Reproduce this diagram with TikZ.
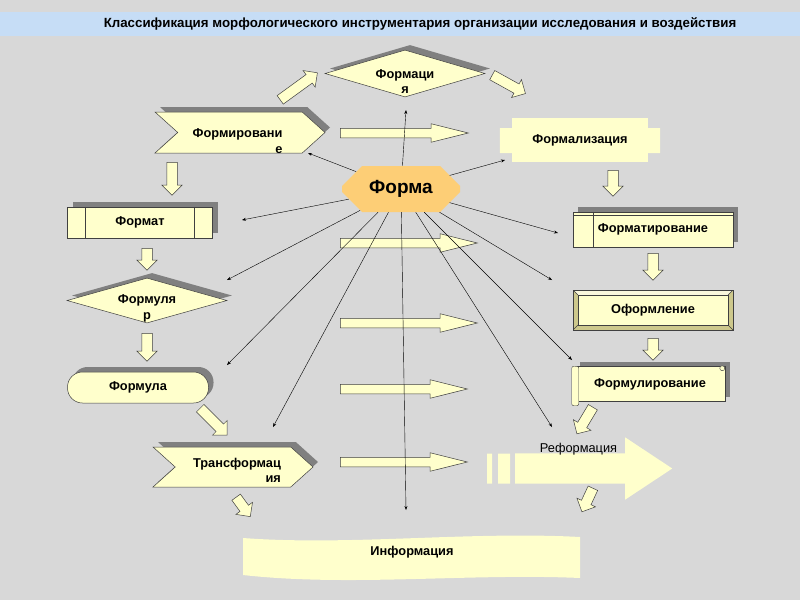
\documentclass[tikz,border=0pt]{standalone}
\usepackage{fontspec}
\setmainfont{Liberation Sans}
\usetikzlibrary{shapes.geometric,shapes.symbols,shapes.misc,shapes.arrows,shadows,calc,arrows.meta}

\definecolor{paper}{RGB}{216,216,216}
\definecolor{band}{RGB}{198,221,246}
\definecolor{pale}{RGB}{255,255,204}
\definecolor{orng}{RGB}{253,206,118}
\definecolor{shadegray}{RGB}{128,128,128}
\definecolor{bevdark}{RGB}{205,200,140}
\definecolor{bevlite}{RGB}{250,248,220}

\begin{document}
\begin{tikzpicture}[x=1pt,y=-1pt,
    lbl/.style={font=\bfseries\fontsize{12.8}{15.5}\selectfont},
    box/.style={draw=black!75, fill=pale, line width=0.5pt, inner sep=0pt, lbl},
    shadowed/.style={drop shadow={shadow xshift=5pt,shadow yshift=5pt,fill=shadegray,opacity=1}},
    chevron/.style={signal, signal to=east, signal from=west, signal pointer angle=84},
    bevel/.style={fill=bevdark, path picture={
        \fill[bevlite] (path picture bounding box.north west) -- (path picture bounding box.north east) -- ++(-5,5) -- ++(-150,0) -- cycle;
        \draw[black!75, fill=pale] ($(path picture bounding box.north west)+(5,5)$) rectangle ($(path picture bounding box.south east)+(-5,-5)$);
        \draw[black!75] (path picture bounding box.north west) -- ++(5,5) (path picture bounding box.north east) -- ++(-5,5)
            (path picture bounding box.south west) -- ++(5,-5) (path picture bounding box.south east) -- ++(-5,-5);}},
    fat/.style={single arrow, anchor=west, draw=black!75, fill=pale, line width=0.5pt, inner xsep=0pt, inner ysep=5pt,
        single arrow head extend=5pt, minimum width=20pt, single arrow tip angle=90},
    long/.style={fat, inner ysep=4.5pt, single arrow head extend=4.5pt, minimum width=18pt, single arrow tip angle=28},
    link/.style={-{Stealth[length=4pt,width=3pt]}, line width=0.4pt}]

\useasboundingbox (0,0) rectangle (800,600);
\fill[paper] (0,0) rectangle (800,600);
\fill[band] (0,12) rectangle (800,36);
\node[font=\bfseries\fontsize{13.3}{16}\selectfont] (title) at (420,24) {Классификация морфологического инструментария организации исследования и воздействия};

% left column
\node[box, shadowed, diamond, minimum width=160, minimum height=47] (formaciya) at (405,73.5) {};
\node[lbl, align=center] (t-formaciya) at (405,81.5) {Формаци\\я};
\node[box, shadowed, chevron, minimum width=170, minimum height=41] (formirovanie) at (240,132.5) {};
\node[lbl, align=right] (t-formirovanie) at (237.5,141) {Формировани\\е};
\node[box, shadowed, minimum width=145, minimum height=31] (format) at (140,222.5) {Формат};
\draw[black!75] ($(format.north west)+(18,0)$) -- ($(format.south west)+(18,0)$)
    ($(format.north east)+(-19,0)$) -- ($(format.south east)+(-19,0)$);
\node[box, shadowed, diamond, minimum width=160, minimum height=45] (formulyar) at (147,300.5) {};
\node[lbl, align=center] (t-formulyar) at (147,308.5) {Формуля\\р};
\node[box, shadowed, rounded corners=15, minimum width=141, minimum height=31] (formula) at (138,387.5) {Формула};
\node[box, shadowed, chevron, minimum width=160, minimum height=40] (transform) at (233,467) {};
\node[lbl, align=right] (t-transform) at (237,470.5) {Трансформац\\ия};

% centre
\node[chamfered rectangle, chamfered rectangle xsep=10pt, chamfered rectangle ysep=10pt, fill=orng,
    minimum width=118, minimum height=46, font=\bfseries\fontsize{19}{22}\selectfont] (forma) at (401,189) {Форма};

% right column
\node[fill=pale, inner sep=0pt, minimum width=136, minimum height=44, lbl] (formaliz) at (580,140) {Формализация};
\fill[pale] ($(formaliz.west)+(-12,-12)$) rectangle ($(formaliz.west)+(0,13)$)
    ($(formaliz.east)+(0,-12)$) rectangle ($(formaliz.east)+(12,13)$);
\node[box, shadowed, minimum width=160, minimum height=35] (formatir) at (653,229.5) {Форматирование};
\draw[black!75] ($(formatir.north west)+(20,0)$) -- ($(formatir.south west)+(20,0)$)
    ($(formatir.north west)+(0,3)$) -- ($(formatir.north east)+(0,3)$);
\node[box, bevel, minimum width=160, minimum height=40] (oform) at (653,310) {Оформление};
\node[box, shadowed, minimum width=150, minimum height=35] (formulir) at (650,384) {Формулирование};
\draw[black!75, fill=pale, rounded corners=2] ($(formulir.north west)+(-3,0)$) rectangle ($(formulir.south west)+(4,4)$);
\draw[black!75, fill=pale] ($(formulir.north east)+(-3,2)$) circle (2.5);

% bottom
\node[single arrow, anchor=west, fill=pale, inner xsep=0pt, inner ysep=15pt, single arrow head extend=16pt,
    minimum width=62, minimum height=157, single arrow tip angle=67] (reform) at (515,468.5) {};
\fill[pale] ($(reform.west)+(-28,-15)$) rectangle ($(reform.west)+(-23,15)$)
    ($(reform.west)+(-17,-15)$) rectangle ($(reform.west)+(-5,15)$);
\node[font=\fontsize{12.8}{15}\selectfont] (t-reform) at (578.5,449) {Реформация};
\fill[pale] (243,538) .. controls (350,546) and (470,531) .. (580,537) -- (580,578)
    .. controls (470,573) and (350,587) .. (243,575) -- cycle;
\node[lbl] (info) at (412,552) {Информация};

% block arrows
\node[fat, rotate=36, minimum height=46] (a1) at (280,100) {};
\node[fat, rotate=-29, minimum height=38] (a2) at (492,75) {};
\node[fat, rotate=-90, minimum height=33] (a3) at (172,162) {};
\node[fat, rotate=-90, minimum height=22] (a4) at (147,248) {};
\node[fat, rotate=-90, minimum height=28] (a5) at (147,333) {};
\node[fat, rotate=-45, minimum height=38] (a6) at (200,408) {};
\node[fat, rotate=-54, minimum height=24] (a7) at (236,497) {};
\node[fat, rotate=-90, minimum height=26] (a8) at (613,170) {};
\node[fat, rotate=-90, minimum height=27] (a9) at (653,253) {};
\node[fat, rotate=-90, minimum height=22] (a10) at (653,338) {};
\node[fat, rotate=-121, minimum height=31] (a11) at (593,407) {};
\node[fat, rotate=-115, minimum height=26] (a12) at (593,488) {};
\node[long, minimum height=128] (m1) at (340,133) {};
\node[long, minimum height=137] (m2) at (340,243) {};
\node[long, minimum height=137] (m3) at (340,323) {};
\node[long, minimum height=127] (m4) at (340,389) {};
\node[long, minimum height=127] (m5) at (340,462) {};

% thin links from the centre
\coordinate (e1) at (406,110);
\coordinate (e2) at (308,153);
\coordinate (e3) at (242,220);
\coordinate (e4) at (227,280);
\coordinate (e5) at (227,365);
\coordinate (e6) at (273,427);
\coordinate (e7) at (406,510);
\coordinate (e8) at (552,427);
\coordinate (e9) at (572,360);
\coordinate (e10) at (552,280);
\coordinate (e11) at (558,233);
\coordinate (e12) at (505,160);
\draw[link] (forma) -- (e1);
\draw[link] (forma) -- (e2);
\draw[link] (forma) -- (e3);
\draw[link] (forma) -- (e4);
\draw[link] (forma) -- (e5);
\draw[link] (forma) -- (e6);
\draw[link] (forma) -- (e7);
\draw[link] (forma) -- (e8);
\draw[link] (forma) -- (e9);
\draw[link] (forma) -- (e10);
\draw[link] (forma) -- (e11);
\draw[link] (forma) -- (e12);
\end{tikzpicture}
\end{document}
